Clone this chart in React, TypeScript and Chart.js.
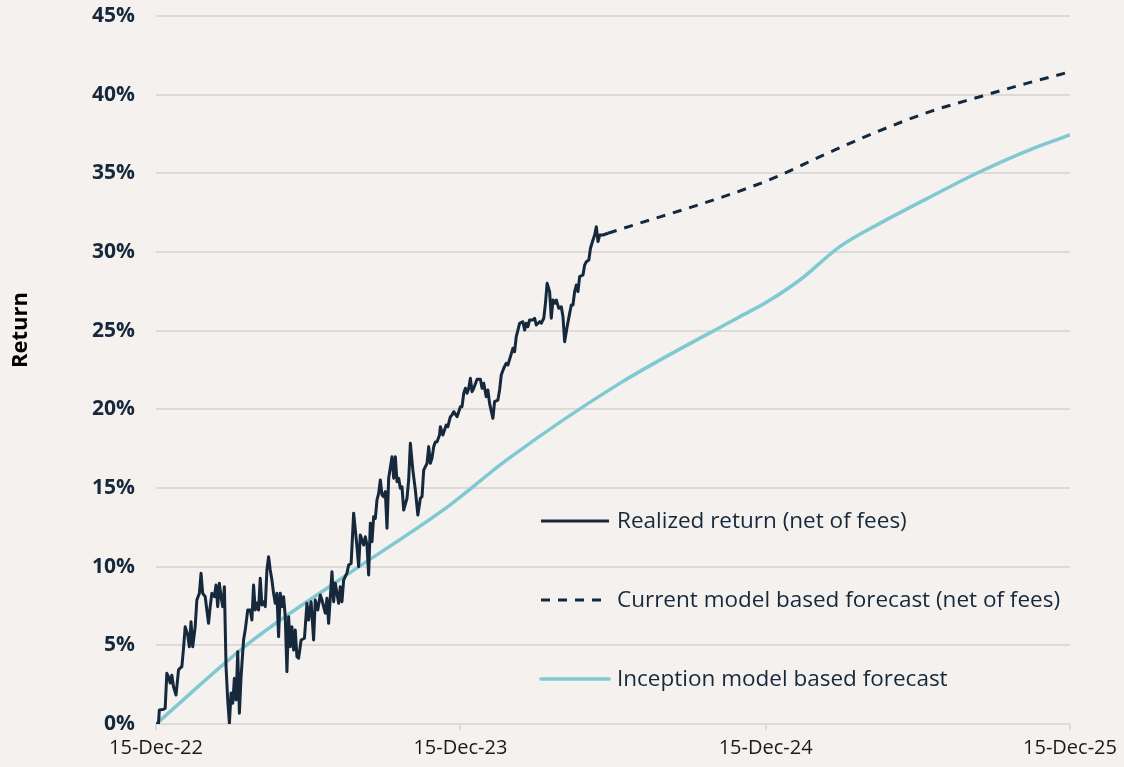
import { useEffect, useRef } from "react";
import { Chart, registerables } from "chart.js";

Chart.register(...registerables);

const BG = "#f4f1ee";
const NAVY = "#16283c";
const TEAL = "#80c9d2";
const GRID = "#dddad7";
const FONT = "'Open Sans', 'Noto Sans', sans-serif";

// x values are days since 15-Dec-22
const xTickDays = [0, 365, 731, 1096];
const xTickLabels = ["15-Dec-22", "15-Dec-23", "15-Dec-24", "15-Dec-25"];
const yTitle = "Return";

const seriesLabels = [
  "Realized return (net of fees)",
  "Current model based forecast (net of fees)",
  "Inception model based forecast",
];

const realizedDays = [
  0, 3, 4, 9, 11, 13, 15, 17, 19, 21,
  24, 27, 29, 31, 33, 35, 38, 40, 42, 44,
  47, 49, 52, 54, 56, 59, 63, 65, 67, 70,
  72, 74, 76, 78, 80, 82, 84, 86, 88, 90,
  92, 94, 96, 98, 100, 102, 105, 107, 110, 113,
  115, 117, 119, 121, 123, 125, 127, 129, 131, 133,
  135, 137, 139, 141, 143, 145, 147, 149, 151, 153,
  155, 157, 159, 161, 163, 165, 167, 169, 171, 174,
  178, 181, 183, 186, 189, 191, 194, 197, 199, 203,
  205, 207, 211, 213, 215, 217, 219, 221, 223, 225,
  229, 231, 234, 237, 241, 243, 245, 247, 249, 251,
  253, 255, 257, 259, 261, 263, 265, 267, 269, 271,
  273, 275, 277, 279, 283, 285, 287, 289, 291, 293,
  295, 297, 301, 303, 305, 308, 311, 314, 317, 319,
  321, 323, 325, 327, 329, 331, 333, 335, 337, 340,
  341, 344, 348, 350, 353, 355, 357, 361, 365, 367,
  369, 371, 373, 375, 377, 379, 381, 385, 389, 391,
  393, 396, 398, 400, 404, 406, 410, 412, 414, 417,
  420, 422, 425, 428, 430, 432, 434, 436, 440, 442,
  444, 446, 448, 452, 454, 456, 460, 462, 465, 467,
  469, 472, 474, 476, 478, 480, 483, 486, 488, 490,
  493, 496, 498, 500, 502, 504, 506, 508, 512, 514,
  516, 519, 521, 524, 526, 528, 530, 532, 536, 542,
];
const realizedValues = [
  0, 0.04, 0.89, 0.93, 1.0, 3.22, 3.0, 2.6, 3.1, 2.37,
  1.84, 3.43, 3.56, 3.64, 4.81, 6.18, 5.66, 4.91, 6.5, 4.91,
  6.18, 7.88, 8.31, 9.58, 8.31, 8.09, 6.4, 7.46, 8.31, 8.09,
  8.83, 7.46, 8.94, 8.09, 7.46, 8.73, 3.64, 1.53, 0.04, 1.97,
  1.32, 2.9, 1.53, 4.6, 0.68, 3.0, 5.34, 5.97, 7.25, 7.25,
  6.61, 8.83, 7.25, 7.69, 7.25, 9.26, 7.56, 7.77, 7.46, 9.79,
  10.63, 9.79, 9.15, 8.31, 7.67, 8.31, 5.55, 8.31, 7.46, 8.09,
  6.82, 3.32, 6.82, 4.91, 6.18, 4.7, 5.97, 4.28, 4.18, 5.34,
  5.45, 7.67, 6.61, 7.77, 5.34, 7.88, 7.25, 8.2, 7.88, 7.04,
  7.99, 6.4, 9.68, 7.77, 8.94, 8.31, 7.67, 8.73, 7.77, 9.15,
  9.6, 10.1, 10.2, 13.4, 11.27, 10.0, 12.01, 11.7, 11.38, 11.9,
  11.38, 9.47, 12.76, 11.59, 13.18, 13.07, 14.24, 14.66, 15.51, 14.56,
  14.45, 14.77, 12.44, 15.62, 16.99, 15.62, 16.99, 15.4, 15.62, 14.98,
  15.08, 13.6, 14.35, 15.51, 17.84, 16.14, 14.87, 13.28, 14.35, 14.45,
  16.14, 16.35, 16.57, 17.63, 16.57, 16.9, 17.63, 17.92, 17.94, 18.37,
  18.9, 18.37, 19.0, 18.9, 19.53, 19.64, 19.85, 19.53, 20.17, 20.17,
  21.02, 21.34, 21.02, 21.34, 21.97, 21.12, 21.34, 21.91, 21.91, 21.34,
  21.66, 20.8, 21.23, 20.38, 19.43, 20.49, 20.59, 21.23, 22.18, 22.61,
  22.93, 22.82, 23.35, 23.88, 23.66, 24.62, 25.04, 25.47, 25.57, 25.04,
  25.47, 25.25, 25.68, 25.68, 25.79, 25.36, 25.57, 25.47, 25.79, 26.74,
  28.01, 27.48, 25.79, 26.95, 26.74, 26.95, 26.42, 26.52, 25.89, 24.3,
  25.25, 26.1, 26.63, 26.63, 27.48, 27.9, 27.48, 28.43, 28.54, 29.17,
  29.38, 29.49, 30.24, 30.76, 31.08, 31.61, 30.66, 31.08, 31.08, 31.19,
];

const forecastDays = [542, 729, 805, 865, 928, 988, 1044, 1096];
const forecastValues = [31.19, 34.45, 36.27, 37.65, 38.92, 39.87, 40.72, 41.45];

const inceptionDays = [0, 113, 221, 352, 421, 556, 700, 733, 772, 820, 868, 925, 988, 1052, 1096];
const inceptionValues = [0, 5.2, 9.2, 13.9, 16.8, 21.65, 25.89, 26.84, 28.22, 30.34, 31.82, 33.41, 35.1, 36.59, 37.44];

const toPoints = (xs: number[], ys: number[]) => xs.map((x, i) => ({ x, y: ys[i] }));

const inlineLegend = {
  id: "inlineLegend",
  afterDraw(chart: any) {
    const ctx = chart.ctx as CanvasRenderingContext2D;
    const rows = [521, 600, 679];
    const lineX0 = 541;
    const lineX1 = 609;
    const textX = 617;
    chart.data.datasets.forEach((ds: any, i: number) => {
      const y = rows[i];
      ctx.save();
      ctx.strokeStyle = ds.borderColor;
      ctx.lineWidth = ds.borderWidth;
      ctx.setLineDash(ds.borderDash || []);
      ctx.lineCap = i === 2 ? "round" : "butt";
      ctx.beginPath();
      ctx.moveTo(lineX0, y);
      ctx.lineTo(lineX1, y);
      ctx.stroke();
      ctx.setLineDash([]);
      ctx.fillStyle = NAVY;
      ctx.font = `22.5px ${FONT}`;
      ctx.textAlign = "left";
      ctx.textBaseline = "middle";
      ctx.fillText(ds.label, textX, y + 1);
      ctx.restore();
    });
    // y-axis title
    ctx.save();
    ctx.translate(21, 330);
    ctx.rotate(-Math.PI / 2);
    ctx.fillStyle = "#000";
    ctx.font = `bold 22px ${FONT}`;
    ctx.textAlign = "center";
    ctx.textBaseline = "middle";
    ctx.fillText(yTitle, 0, 0);
    ctx.restore();
  },
};

export default function App() {
  const ref = useRef<HTMLCanvasElement>(null);
  useEffect(() => {
    document.body.style.margin = "0";
    document.body.style.background = BG;
    const chart = new Chart(ref.current!, {
      type: "line",
      data: {
        datasets: [
          {
            label: seriesLabels[0],
            data: toPoints(realizedDays, realizedValues),
            borderColor: NAVY,
            borderWidth: 3,
            pointRadius: 0,
            tension: 0,
            borderJoinStyle: "round",
          },
          {
            label: seriesLabels[1],
            data: toPoints(forecastDays, forecastValues),
            borderColor: NAVY,
            borderWidth: 3,
            borderDash: [9, 8],
            pointRadius: 0,
            cubicInterpolationMode: "monotone",
          },
          {
            label: seriesLabels[2],
            data: toPoints(inceptionDays, inceptionValues),
            borderColor: TEAL,
            borderWidth: 3.5,
            pointRadius: 0,
            cubicInterpolationMode: "monotone",
          },
        ],
      },
      options: {
        animation: false,
        responsive: true,
        maintainAspectRatio: false,
        layout: { padding: { top: 16, right: 54, left: 0, bottom: 0 } },
        plugins: { legend: { display: false }, tooltip: { enabled: false } },
        scales: {
          x: {
            type: "linear",
            min: 0,
            max: 1096,
            afterFit: (s: any) => {
              s.height = 43;
            },
            afterBuildTicks: (s: any) => {
              s.ticks = xTickDays.map((v) => ({ value: v }));
            },
            ticks: {
              autoSkip: false,
              maxRotation: 0,
              padding: 6,
              color: "#1a1a1a",
              font: { family: FONT, size: 20 },
              callback: (v: any) => {
                const i = xTickDays.indexOf(Number(v));
                return i >= 0 ? xTickLabels[i] : "";
              },
            },
            grid: {
              drawOnChartArea: false,
              drawTicks: true,
              tickLength: 6,
              color: GRID,
              lineWidth: 2,
            },
            border: { display: false },
          },
          y: {
            min: 0,
            max: 45,
            afterFit: (s: any) => {
              s.width = 156;
            },
            ticks: {
              stepSize: 5,
              padding: 0,
              color: NAVY,
              font: { family: FONT, size: 21, weight: "bold" },
              callback: (v: any) => `${v}%`,
            },
            grid: {
              color: GRID,
              lineWidth: 2,
              drawTicks: true,
              tickLength: 21,
              tickColor: "rgba(0,0,0,0)",
            },
            border: { display: false },
          },
        },
      },
      plugins: [inlineLegend],
    });
    return () => chart.destroy();
  }, []);
  return (
    <div style={{ position: "relative", width: 1124, height: 767, background: BG }}>
      <canvas ref={ref} />
    </div>
  );
}
